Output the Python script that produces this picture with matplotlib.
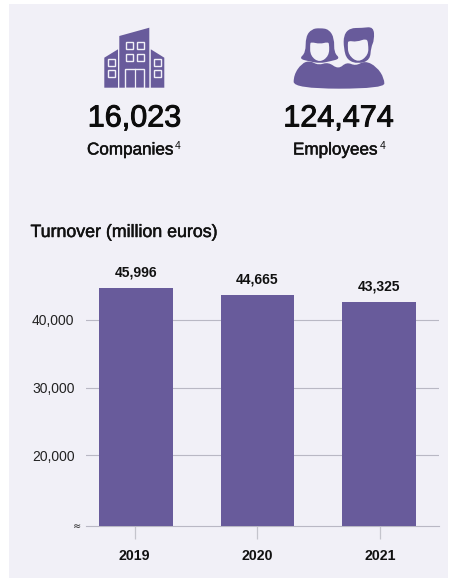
import matplotlib
matplotlib.use('Agg')
import matplotlib.pyplot as plt
import matplotlib.patheffects as pe
from matplotlib.patches import Polygon, Rectangle, PathPatch
from matplotlib.path import Path

years = ['2019', '2020', '2021']
bar_heights = [44680, 43640, 42600]
bar_labels = ['45,996', '44,665', '43,325']
y_ticks = [20000, 30000, 40000]
y_tick_labels = ['20,000', '30,000', '40,000']
axis_bottom = 9530
stats = ['16,023', '124,474']
stat_names = ['Companies', 'Employees']

BG = '#f1f0f7'
PURPLE = '#685b9b'
GRID = '#b9b8c4'
W, H = 449, 580

plt.rcParams['font.family'] = ['Liberation Sans', 'DejaVu Sans']

fig = plt.figure(figsize=(W / 100, H / 100), dpi=100, facecolor='white')

# panel behind everything
bg = fig.add_axes([0, 0, 1, 1])
bg.set_xlim(0, W)
bg.set_ylim(H, 0)
bg.axis('off')
bg.add_patch(Rectangle((9, 4), 439, 574, fc=BG, lw=0))

# chart, placed by pixels
left, right, top, bottom = 86, 439, 270, 526.3
ax = fig.add_axes([left / W, 1 - bottom / H, (right - left) / W, (bottom - top) / H])
ax.set_facecolor('none')
ax.set_xlim(-0.397, 2.48)
ax.set_ylim(axis_bottom, 20000 + (455.3 - top) / 67.8 * 10000)
bar_x = [0.01, 1.0, 1.99]
ax.bar(bar_x, bar_heights, width=0.6, color=PURPLE, zorder=3)
for sp in ['top', 'left', 'right']:
    ax.spines[sp].set_visible(False)
ax.spines['bottom'].set_color(GRID)
ax.spines['bottom'].set_linewidth(0.8)
ax.set_yticks(y_ticks)
ax.set_yticklabels(y_tick_labels, fontsize=10, color='#222222')
ax.tick_params(axis='y', length=0, pad=8.2)
ax.grid(axis='y', color=GRID, lw=0.8, zorder=1)
ax.set_axisbelow(True)
ax.set_xticks(range(3))
ax.set_xticklabels(years, fontsize=10.2, fontweight='bold', color='#111111')
ax.tick_params(axis='x', length=9, width=0.9, color='#c4c4cc', pad=7)
ax.text(-0.44, axis_bottom, '≈', fontsize=7, ha='right', va='center', color='#222222', family=['DejaVu Sans'])
for i, h in enumerate(bar_heights):
    ax.annotate(bar_labels[i], (bar_x[i], h), xytext=(0, 6), textcoords='offset points',
                ha='center', va='bottom', fontsize=10, fontweight='bold', color='#111111')

# overlay in pixel coords for the icons and the headline figures
ov = fig.add_axes([0, 0, 1, 1])
ov.set_xlim(0, W)
ov.set_ylim(H, 0)
ov.axis('off')
ov.patch.set_alpha(0)


def blob(pts, color, ox=285, oy=20):
    pts = [(ox + x / 3, oy + y / 3) for x, y in pts]
    n = len(pts)
    mid = [((pts[i][0] + pts[(i + 1) % n][0]) / 2, (pts[i][1] + pts[(i + 1) % n][1]) / 2) for i in range(n)]
    verts = [mid[-1]]
    codes = [Path.MOVETO]
    for i in range(n):
        verts += [pts[i], mid[i]]
        codes += [Path.CURVE3, Path.CURVE3]
    ov.add_patch(PathPatch(Path(verts, codes), fc=color, lw=0))


# building icon
ov.add_patch(Polygon([(119.3, 36), (149.3, 27.7), (149.3, 87.7), (119.3, 87.7)], color=PURPLE, lw=0))
ov.add_patch(Polygon([(104.3, 57.7), (118, 49.3), (118, 87.7), (104.3, 87.7)], color=PURPLE, lw=0))
ov.add_patch(Polygon([(150.8, 49.3), (164.3, 57.7), (164.3, 87.7), (150.8, 87.7)], color=PURPLE, lw=0))
for x, y in [(125.5, 42), (136.7, 42), (125.5, 53.5), (136.7, 53.5),
             (108, 58.5), (108, 70), (154.3, 58.5), (154.3, 70)]:
    ov.add_patch(Rectangle((x, y), 7, 7, fc='none', ec=BG, lw=1))
ov.add_patch(Rectangle((125.3, 69), 18.7, 19, fc='none', ec=BG, lw=1))
ov.plot([134.6, 134.6], [69, 87.7], color=BG, lw=0.9)

# people icon
blob([(26, 206), (26, 165), (50, 130), (75, 122), (100, 136), (130, 126), (160, 148), (185, 126),
      (212, 138), (240, 122), (275, 140), (298, 175), (298, 206)], PURPLE)
# woman
blob([(42, 116), (62, 98), (62, 50), (80, 27), (105, 24), (132, 28), (148, 55), (147, 98), (166, 116),
      (135, 124), (105, 130), (72, 124)], PURPLE)
blob([(75, 72), (78, 66), (105, 72), (128, 66), (133, 72), (132, 108), (104, 128), (76, 108)], BG)
# man
blob([(176, 85), (176, 45), (195, 24), (230, 24), (266, 20), (268, 60), (258, 82), (255, 120), (220, 132),
      (186, 120)], PURPLE)
blob([(188, 72), (190, 62), (215, 66), (245, 55), (250, 72), (250, 105), (220, 128), (190, 105)], BG)

# text
heavy = [pe.withStroke(linewidth=0.7, foreground='#0c0c0c')]
medium = [pe.withStroke(linewidth=0.35, foreground='#111111')]
ov.text(134.5, 118.5, stats[0], fontsize=22, ha='center', va='center', color='#0c0c0c', path_effects=heavy)
ov.text(338.5, 118.5, stats[1], fontsize=22, ha='center', va='center', color='#0c0c0c', path_effects=heavy)
ov.text(87, 150, stat_names[0], fontsize=12.3, ha='left', va='center', color='#111111', path_effects=medium)
ov.text(293, 150, stat_names[1], fontsize=12.3, ha='left', va='center', color='#111111', path_effects=medium)
ov.text(175, 146, '4', fontsize=7.5, ha='left', va='center', color='#111111')
ov.text(380, 146, '4', fontsize=7.5, ha='left', va='center', color='#111111')
ov.text(30.5, 232.5, 'Turnover (million euros)', fontsize=12.8, ha='left', va='center', color='#111111', path_effects=medium)

fig.savefig('out.png', dpi=100, facecolor='white')
